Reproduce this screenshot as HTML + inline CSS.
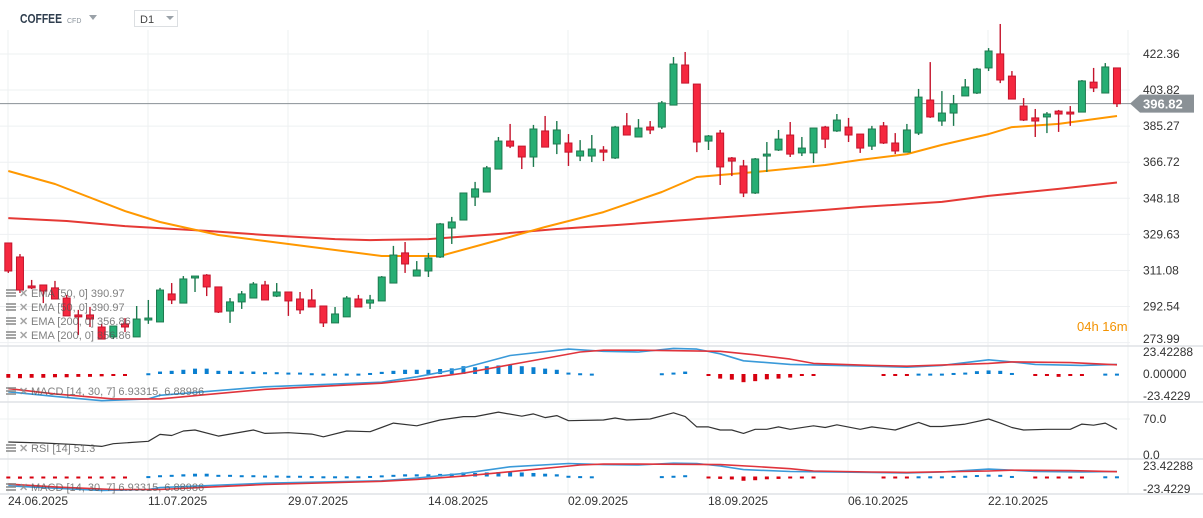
<!DOCTYPE html>
<html><head><meta charset="utf-8"><style>
body{margin:0;background:#fff;font-family:"Liberation Sans",sans-serif;}
svg{display:block}
</style></head><body>
<svg id="c" width="1203" height="518" viewBox="0 0 1203 518" xmlns="http://www.w3.org/2000/svg">
<g id="grid"></g>
<g id="main"></g>
<g id="sub"></g>
<g id="labels"></g>
<g>
 <text x="20" y="23" font-size="13" font-weight="bold" fill="#2f3e4e" textLength="42" lengthAdjust="spacingAndGlyphs">COFFEE</text>
 <text x="67" y="23" font-size="7" fill="#8a939b">CFD</text>
 <path d="M89 15 L97 15 L93 20 Z" fill="#9aa1a8"/>
 <rect x="134.5" y="10.5" width="43" height="16" fill="#fff" stroke="#dcdfe2"/>
 <text x="140" y="23" font-size="11" fill="#444">D1</text>
 <path d="M166 16 L174 16 L170 20 Z" fill="#9aa1a8"/>
</g>
</svg>
<script>
const opens=[325.2,318.0,303.1,303.6,302.1,296.9,288.2,288.2,282.0,276.9,283.6,276.9,285.6,284.6,299.0,294.3,307.2,308.7,302.6,290.2,294.9,296.9,303.6,297.9,300.0,296.4,295.9,292.8,284.1,287.2,296.4,294.3,295.4,304.6,320.1,308.2,310.8,318.0,332.9,337.0,348.8,351.4,363.2,377.6,375.0,369.4,382.8,376.1,376.6,369.9,369.9,373.0,368.9,385.4,379.7,384.8,384.8,396.1,416.7,406.9,377.6,381.7,368.9,364.8,350.9,369.9,373.0,380.7,371.5,371.5,384.8,382.8,384.8,381.2,375.0,385.4,376.6,371.9,381.7,398.7,387.9,392.0,400.8,402.3,415.2,422.4,411.0,395.6,389.5,390.0,393.0,392.5,392.5,407.9,402.3,415.2];
const closes=[310.8,301.0,302.1,300.5,296.4,287.7,287.2,286.1,275.8,282.5,282.0,286.1,286.6,301.0,295.9,306.7,308.2,302.6,289.7,294.9,299.0,304.1,295.9,300.0,295.4,290.8,292.3,284.1,288.7,296.9,292.3,295.9,307.7,319.0,314.4,311.3,317.5,335.0,336.0,350.9,353.0,363.8,377.6,375.0,369.4,383.8,374.5,383.3,371.9,372.5,373.5,371.9,384.8,380.7,384.3,383.3,397.2,417.2,407.4,377.1,380.2,364.3,367.3,350.9,368.4,370.9,378.6,370.9,374.0,384.3,378.6,388.4,380.7,374.0,383.8,376.6,372.5,383.3,400.2,390.0,392.0,396.7,405.4,414.6,423.9,409.0,399.2,388.4,387.9,391.5,391.5,391.5,408.5,404.9,415.7,396.8];
const highs=[325.2,319.5,306.2,303.6,305.7,298.5,290.8,292.3,283.6,282.5,286.6,292.8,295.9,302.1,304.6,308.2,308.2,309.2,302.6,296.9,300.5,305.1,305.7,304.6,300.0,300.0,301.5,292.8,292.3,297.9,298.5,298.5,308.2,323.7,325.7,315.9,320.1,335.5,338.6,350.9,356.6,364.8,379.7,386.4,375.0,385.9,390.5,387.9,381.2,378.1,380.7,375.0,385.4,392.0,388.9,387.9,398.2,420.8,423.4,406.9,380.7,383.3,369.4,367.9,368.9,377.1,383.3,387.4,379.7,384.3,385.4,391.5,389.5,381.2,385.4,387.4,381.7,386.4,404.4,418.2,403.3,401.3,409.5,415.2,425.4,437.8,413.6,399.7,394.1,392.5,393.6,395.6,409.0,415.2,417.7,415.2];
const lows=[309.8,299.5,301.5,294.3,296.4,287.7,277.9,282.0,275.8,275.8,279.4,276.9,283.6,284.6,293.8,294.3,300.0,297.9,289.2,284.1,291.3,296.9,295.9,297.4,287.7,288.7,292.3,282.0,284.1,287.2,292.3,291.3,295.4,304.6,309.8,308.2,307.7,317.5,324.7,337.0,344.2,351.4,363.2,374.0,363.2,364.3,374.5,370.9,364.8,367.3,366.8,367.3,368.4,380.7,379.7,381.2,383.8,396.1,407.4,371.9,373.0,355.0,359.6,348.8,350.4,361.7,372.5,369.4,369.9,366.3,374.0,382.3,377.1,371.5,373.0,376.1,370.9,371.9,380.7,389.5,385.4,385.4,400.8,401.8,413.6,407.4,399.2,387.9,379.7,381.7,382.3,385.4,392.5,402.8,402.3,395.1];
const ema50Idx=[0,4,10,13,18,22,28,32,37,42,46,51,56,59,64,70,73,77,80,84,86,90,95];
const ema50Val=[362.2,355.5,341.6,336.0,329.3,326.2,321.6,318.5,318.5,326.7,333.4,341.1,351.4,359.1,361.7,365.3,367.9,370.9,375.6,381.2,384.8,386.4,390.5];
const ema200Idx=[0,5,10,17,22,28,31,36,42,47,52,58,64,70,73,80,84,90,95];
const ema200Val=[338.0,336.5,333.9,331.4,329.3,327.2,326.7,327.2,329.8,332.4,334.4,337.0,339.6,342.2,343.7,346.3,349.4,353.0,356.3];
const macdIdx=[0,4,8,12,13,22,32,35,39,43,48,51,54,57,59,61,63,67,74,77,80,84,86,88,92,95];
const macdVal=[-18.9,-23.8,-28.4,-26.5,-22.7,-13.6,-8.7,-3.0,6.4,19.7,26.5,24.2,23.4,27.2,26.5,21.5,14.0,10.2,8.3,7.2,9.1,15.1,12.9,10.2,9.1,10.2];
const sigIdx=[0,4,9,13,17,22,32,35,39,44,49,51,54,61,64,67,69,74,77,84,86,91,95];
const sigVal=[-15.5,-21.2,-26.5,-26.5,-21.9,-16.3,-9.8,-6.0,0.8,12.1,23.4,25.3,25.3,24.2,20.4,15.9,11.3,9.1,8.3,11.3,12.9,12.1,9.8];
const histVal=[-4,-4.5,-4,-4,-3.5,-3.5,-3,-3,-2.5,-2,-1.5,0,
0.8,2.6,3.4,4.5,5.7,5.7,3.4,3.4,2.6,2.6,1.9,1.9,1.5,1.5,0.8,0.4,0.4,0.4,0.4,1.1,2.3,3.4,4.5,4.5,4.5,5.3,6.0,8.3,7.2,8.3,9.1,9.8,8.3,7.2,5.7,4.5,1.5,0.8,0.4,
0,0,0,0,0,0.8,1.5,2.6,0,-1.9,-4.9,-6,-8.7,-7.6,-5.7,-4.9,-3.8,-1.9,-1.5,0,0,0,0,0,-1.5,-1.5,-1.5,
0.4,0.4,0.4,1.1,1.5,3.0,3.8,3.4,1.1,0,-1.1,-1.9,-3.0,-1.9,-1.1,0,0.4,0.4];
const rsiIdx=[0,3,6,8,9,12,13,14,15,16,18,21,22,24,26,27,29,31,33,35,37,39,40,42,44,45,46,47,48,51,52,53,55,57,58,59,60,61,62,63,64,65,66,67,69,70,71,73,74,76,78,79,80,82,84,85,86,87,89,91,92,93,94,95];
const rsiVal=[25.3,23.3,20.0,16.7,22.0,26.7,40.0,38.0,46.7,48.7,36.7,48.7,42.0,43.4,40.7,35.4,46.7,45.4,62.0,56.7,68.0,74.7,74.7,83.4,75.4,80.0,72.7,76.7,66.7,68.0,72.0,68.0,70.0,82.0,74.7,54.7,54.7,48.7,48.7,42.0,50.0,50.0,54.7,50.0,56.7,53.4,58.7,50.0,54.7,48.7,63.4,55.4,55.4,60.0,70.0,62.0,53.4,48.7,50.0,50.0,60.0,58.0,62.0,50.0];
const priceTicks=[422.36,403.82,385.27,366.72,348.18,329.63,311.08,292.54,273.99];
const dateLabels=["24.06.2025","11.07.2025","29.07.2025","14.08.2025","02.09.2025","18.09.2025","06.10.2025","22.10.2025"];
const lastPrice=396.82;

const NS="http://www.w3.org/2000/svg";
function mk(parent,tag,attrs){const e=document.createElementNS(NS,tag);for(const k in attrs)e.setAttribute(k,attrs[k]);parent.appendChild(e);return e;}
const X=i=>8.3+i*11.67;
const Y=v=>54+(422.36-v)*1.945;
const M1=v=>374-v*0.94;
const M2=v=>476.5-v*0.49;
const R=v=>455-v*36/70;
const grid=document.getElementById('grid'),main=document.getElementById('main'),sub=document.getElementById('sub'),lab=document.getElementById('labels');

dateLabels.forEach((d,k)=>{const gx=8+k*140;
 const l=mk(grid,'line',{x1:gx,x2:gx,y1:30,y2:494,stroke:'#eef0f2'});
 
 
 const t=mk(lab,'text',{x:gx,y:505,'font-size':12,fill:'#333'});t.textContent=d;
 
 
});
mk(grid,'line',{x1:1128,x2:1128,y1:30,y2:494,stroke:'#eef0f2'});
priceTicks.forEach(p=>{const y=Y(p);
 const l=mk(grid,'line',{x1:0,x2:1130,y1:y,y2:y,stroke:'#eef0f2'});
 
 
 const t=mk(lab,'text',{x:1143,y:Math.min(y,339)+4,'font-size':12,fill:'#333'});t.textContent=p.toFixed(2);
 
 
});
[346,402,459,494].forEach(y=>{const l=mk(grid,'line',{x1:0,x2:1203,y1:y,y2:y,stroke:'#dfe2e5','stroke-width':1.5});
 
 });
mk(grid,'line',{x1:0,x2:1130,y1:419,y2:419,stroke:'#eef0f2'});
[["23.42288",352],["0.00000",374],["-23.4229",396],["70.0",419],["0.0",455],["23.42288",466],["-23.4229",489]].forEach(a=>{
 const t=mk(lab,'text',{x:1143,y:a[1]+4,'font-size':12,fill:'#333'});t.textContent=a[0];
 
 });

function poly(parent,idx,vals,fy,color,w,name){
 const pts=idx.map((i,k)=>X(i).toFixed(1)+','+fy(vals[k]).toFixed(1)).join(' ');
 const p=mk(parent,'polyline',{points:pts,fill:'none',stroke:color,'stroke-width':w,'stroke-linejoin':'round'});
 
 
}
poly(main,ema200Idx,ema200Val,Y,'#e53935',2,'ema-200-line');
poly(main,ema50Idx,ema50Val,Y,'#ff9800',2,'ema-50-line');

const ly=Y(lastPrice);
mk(main,'line',{x1:0,x2:1140,y1:ly,y2:ly,stroke:'#8a9196','stroke-width':1});

for(let i=0;i<opens.length;i++){
 const up=closes[i]>=opens[i];
 const fill=up?'#27ae74':'#f5283f', st=up?'#1d7a4f':'#c4142c';
 const cx=X(i);
 const w=mk(main,'line',{x1:cx,x2:cx,y1:Y(highs[i]),y2:Y(lows[i]),stroke:st,'stroke-width':1.4});
 
 
 const top=Y(Math.max(opens[i],closes[i])),bot=Y(Math.min(opens[i],closes[i]));
 const b=mk(main,'rect',{x:cx-3.5,y:top,width:7,height:Math.max(1.5,bot-top),fill:fill,stroke:st,'stroke-width':1});
 
 
}
const tag=mk(lab,'path',{d:`M1130 ${ly} L1140 ${ly-9} L1194 ${ly-9} L1194 ${ly+9} L1140 ${ly+9} Z`,fill:'#8a9196'});


const tt=mk(lab,'text',{x:1143,y:ly+5,'font-size':13,'font-weight':'bold',fill:'#fff'});tt.textContent='396.82';


const cd=mk(lab,'text',{x:1077,y:331,'font-size':13,fill:'#f39200'});cd.textContent='04h 16m';



function macdPane(fy,name){
 histVal.forEach((v,i)=>{ if(v===0)return;
  const y0=fy(0),y1=fy(v);
  const r=mk(sub,'rect',{x:X(i)-2,y:Math.min(y0,y1),width:4,height:Math.max(2,Math.abs(y1-y0)),fill:v>0?'#0a7fd0':'#d7000f'});
  
  
 });
 poly(sub,macdIdx,macdVal,fy,'#3a9ad9',1.6,name+'-line');
 poly(sub,sigIdx,sigVal,fy,'#e0343c',1.6,name+'-signal-line');
}
macdPane(M1,'macd-upper');
macdPane(M2,'macd-lower');
poly(sub,rsiIdx,rsiVal,R,'#333',1.2,'rsi-line');

function legend(y,text,name){
 const g=mk(lab,'g',{opacity:0.75});
 
 
 mk(g,'rect',{x:6,y:y-8,width:10,height:2,fill:'#888'});
 mk(g,'rect',{x:6,y:y-5,width:10,height:2,fill:'#888'});
 mk(g,'rect',{x:6,y:y-2,width:10,height:2,fill:'#888'});
 const x=mk(g,'text',{x:19,y:y,'font-size':11,'font-weight':'bold',fill:'#888'});x.textContent='✕';
 const t=mk(g,'text',{x:31,y:y,'font-size':11,fill:'#555'});t.textContent=text;
}
legend(297,'EMA [50, 0] 390.97','legend-ema-50');
legend(311,'EMA [50, 0] 390.97','legend-ema-50-b');
legend(325,'EMA [200, 0] 356.86','legend-ema-200');
legend(339,'EMA [200, 0] 356.86','legend-ema-200-b');
legend(395,'MACD [14, 30, 7] 6.93315, 6.88986','legend-macd');
legend(452,'RSI [14] 51.3','legend-rsi');
legend(491,'MACD [14, 30, 7] 6.93315, 6.88986','legend-macd-lower');
</script>
</body></html>
